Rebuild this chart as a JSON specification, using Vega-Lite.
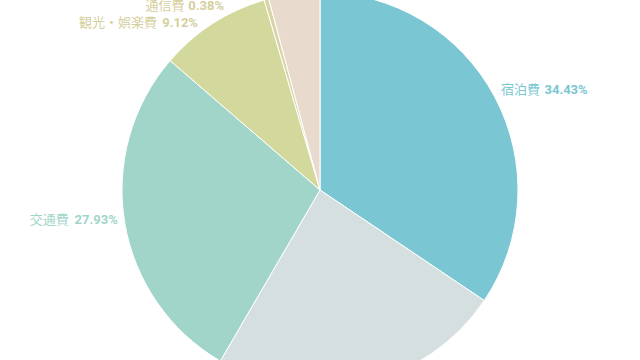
{
  "$schema": "https://vega.github.io/schema/vega-lite/v6.json",
  "width": 640,
  "height": 340,
  "autosize": "none",
  "padding": {"left": 0, "right": 0, "top": 20, "bottom": 0},
  "background": "white",
  "config": {"view": {"stroke": null}, "text": {"font": "Roboto, Noto Sans CJK JP", "fontSize": 13}},
  "data": {
    "values": [
      {"category": "宿泊費", "value": 34.43},
      {"category": "食費", "value": 23.97},
      {"category": "交通費", "value": 27.93},
      {"category": "観光・娯楽費", "value": 9.12},
      {"category": "通信費", "value": 0.38},
      {"category": "その他", "value": 4.17}
    ]
  },
  "transform": [
    {"window": [{"op": "sum", "field": "value", "as": "cum"}], "frame": [null, 0]},
    {"calculate": "datum.cum - datum.value", "as": "start"},
    {"calculate": "datum.cum - datum.value / 2", "as": "mid"},
    {"calculate": "format(datum.value, '.2f') + '%'", "as": "pct"}
  ],
  "layer": [
    {
      "mark": {"type": "arc", "outerRadius": 198, "stroke": "white", "strokeWidth": 1},
      "encoding": {
        "theta": {"field": "start", "type": "quantitative", "stack": null, "scale": {"domain": [0, 100]}},
        "theta2": {"field": "cum"},
        "color": {
          "field": "category", "type": "nominal", "legend": null,
          "scale": {
            "domain": ["宿泊費", "食費", "交通費", "観光・娯楽費", "通信費", "その他"],
            "range": ["#7AC7D3", "#D6DFDF", "#A2D5CA", "#D3D99D", "#D9D3A6", "#E8DBCD"]
          }
        }
      }
    },
    {
      "transform": [{"filter": "datum.category === '宿泊費'"}],
      "mark": {"type": "text", "radius": 205, "align": "left", "baseline": "middle", "dy": -4, "color": "#7AC7D3"},
      "encoding": {"theta": {"field": "mid", "type": "quantitative", "stack": null}, "text": {"field": "category"}}
    },
    {
      "transform": [{"filter": "datum.category === '宿泊費'"}],
      "mark": {"type": "text", "radius": 205, "align": "left", "baseline": "middle", "dy": -4, "dx": 43.5, "fontWeight": "bold", "color": "#7AC7D3"},
      "encoding": {"theta": {"field": "mid", "type": "quantitative", "stack": null}, "text": {"field": "pct"}}
    },
    {
      "transform": [{"filter": "datum.category === '交通費'"}],
      "mark": {"type": "text", "radius": 205, "align": "right", "baseline": "middle", "dy": -4, "dx": -49, "color": "#A2D5CA"},
      "encoding": {"theta": {"field": "mid", "type": "quantitative", "stack": null}, "text": {"field": "category"}}
    },
    {
      "transform": [{"filter": "datum.category === '交通費'"}],
      "mark": {"type": "text", "radius": 205, "align": "right", "baseline": "middle", "dy": -4, "dx": 0, "fontWeight": "bold", "color": "#A2D5CA"},
      "encoding": {"theta": {"field": "mid", "type": "quantitative", "stack": null}, "text": {"field": "pct"}}
    },
    {
      "transform": [{"filter": "datum.category === '観光・娯楽費'"}],
      "mark": {"type": "text", "radius": 205, "align": "right", "baseline": "middle", "dy": 5, "dx": -52, "color": "#D5CF9E"},
      "encoding": {"theta": {"field": "mid", "type": "quantitative", "stack": null}, "text": {"field": "category"}}
    },
    {
      "transform": [{"filter": "datum.category === '観光・娯楽費'"}],
      "mark": {"type": "text", "radius": 205, "align": "right", "baseline": "middle", "dy": 5, "dx": -11, "fontWeight": "bold", "color": "#D5CF9E"},
      "encoding": {"theta": {"field": "mid", "type": "quantitative", "stack": null}, "text": {"field": "pct"}}
    },
    {
      "transform": [{"filter": "datum.category === '通信費'"}],
      "mark": {"type": "text", "radius": 205, "align": "right", "baseline": "middle", "dy": 13.4, "dx": -80, "color": "#D5CF9E"},
      "encoding": {"theta": {"field": "mid", "type": "quantitative", "stack": null}, "text": {"field": "category"}}
    },
    {
      "transform": [{"filter": "datum.category === '通信費'"}],
      "mark": {"type": "text", "radius": 205, "align": "right", "baseline": "middle", "dy": 13.4, "dx": -40.5, "fontWeight": "bold", "color": "#D5CF9E"},
      "encoding": {"theta": {"field": "mid", "type": "quantitative", "stack": null}, "text": {"field": "pct"}}
    }
  ]
}
